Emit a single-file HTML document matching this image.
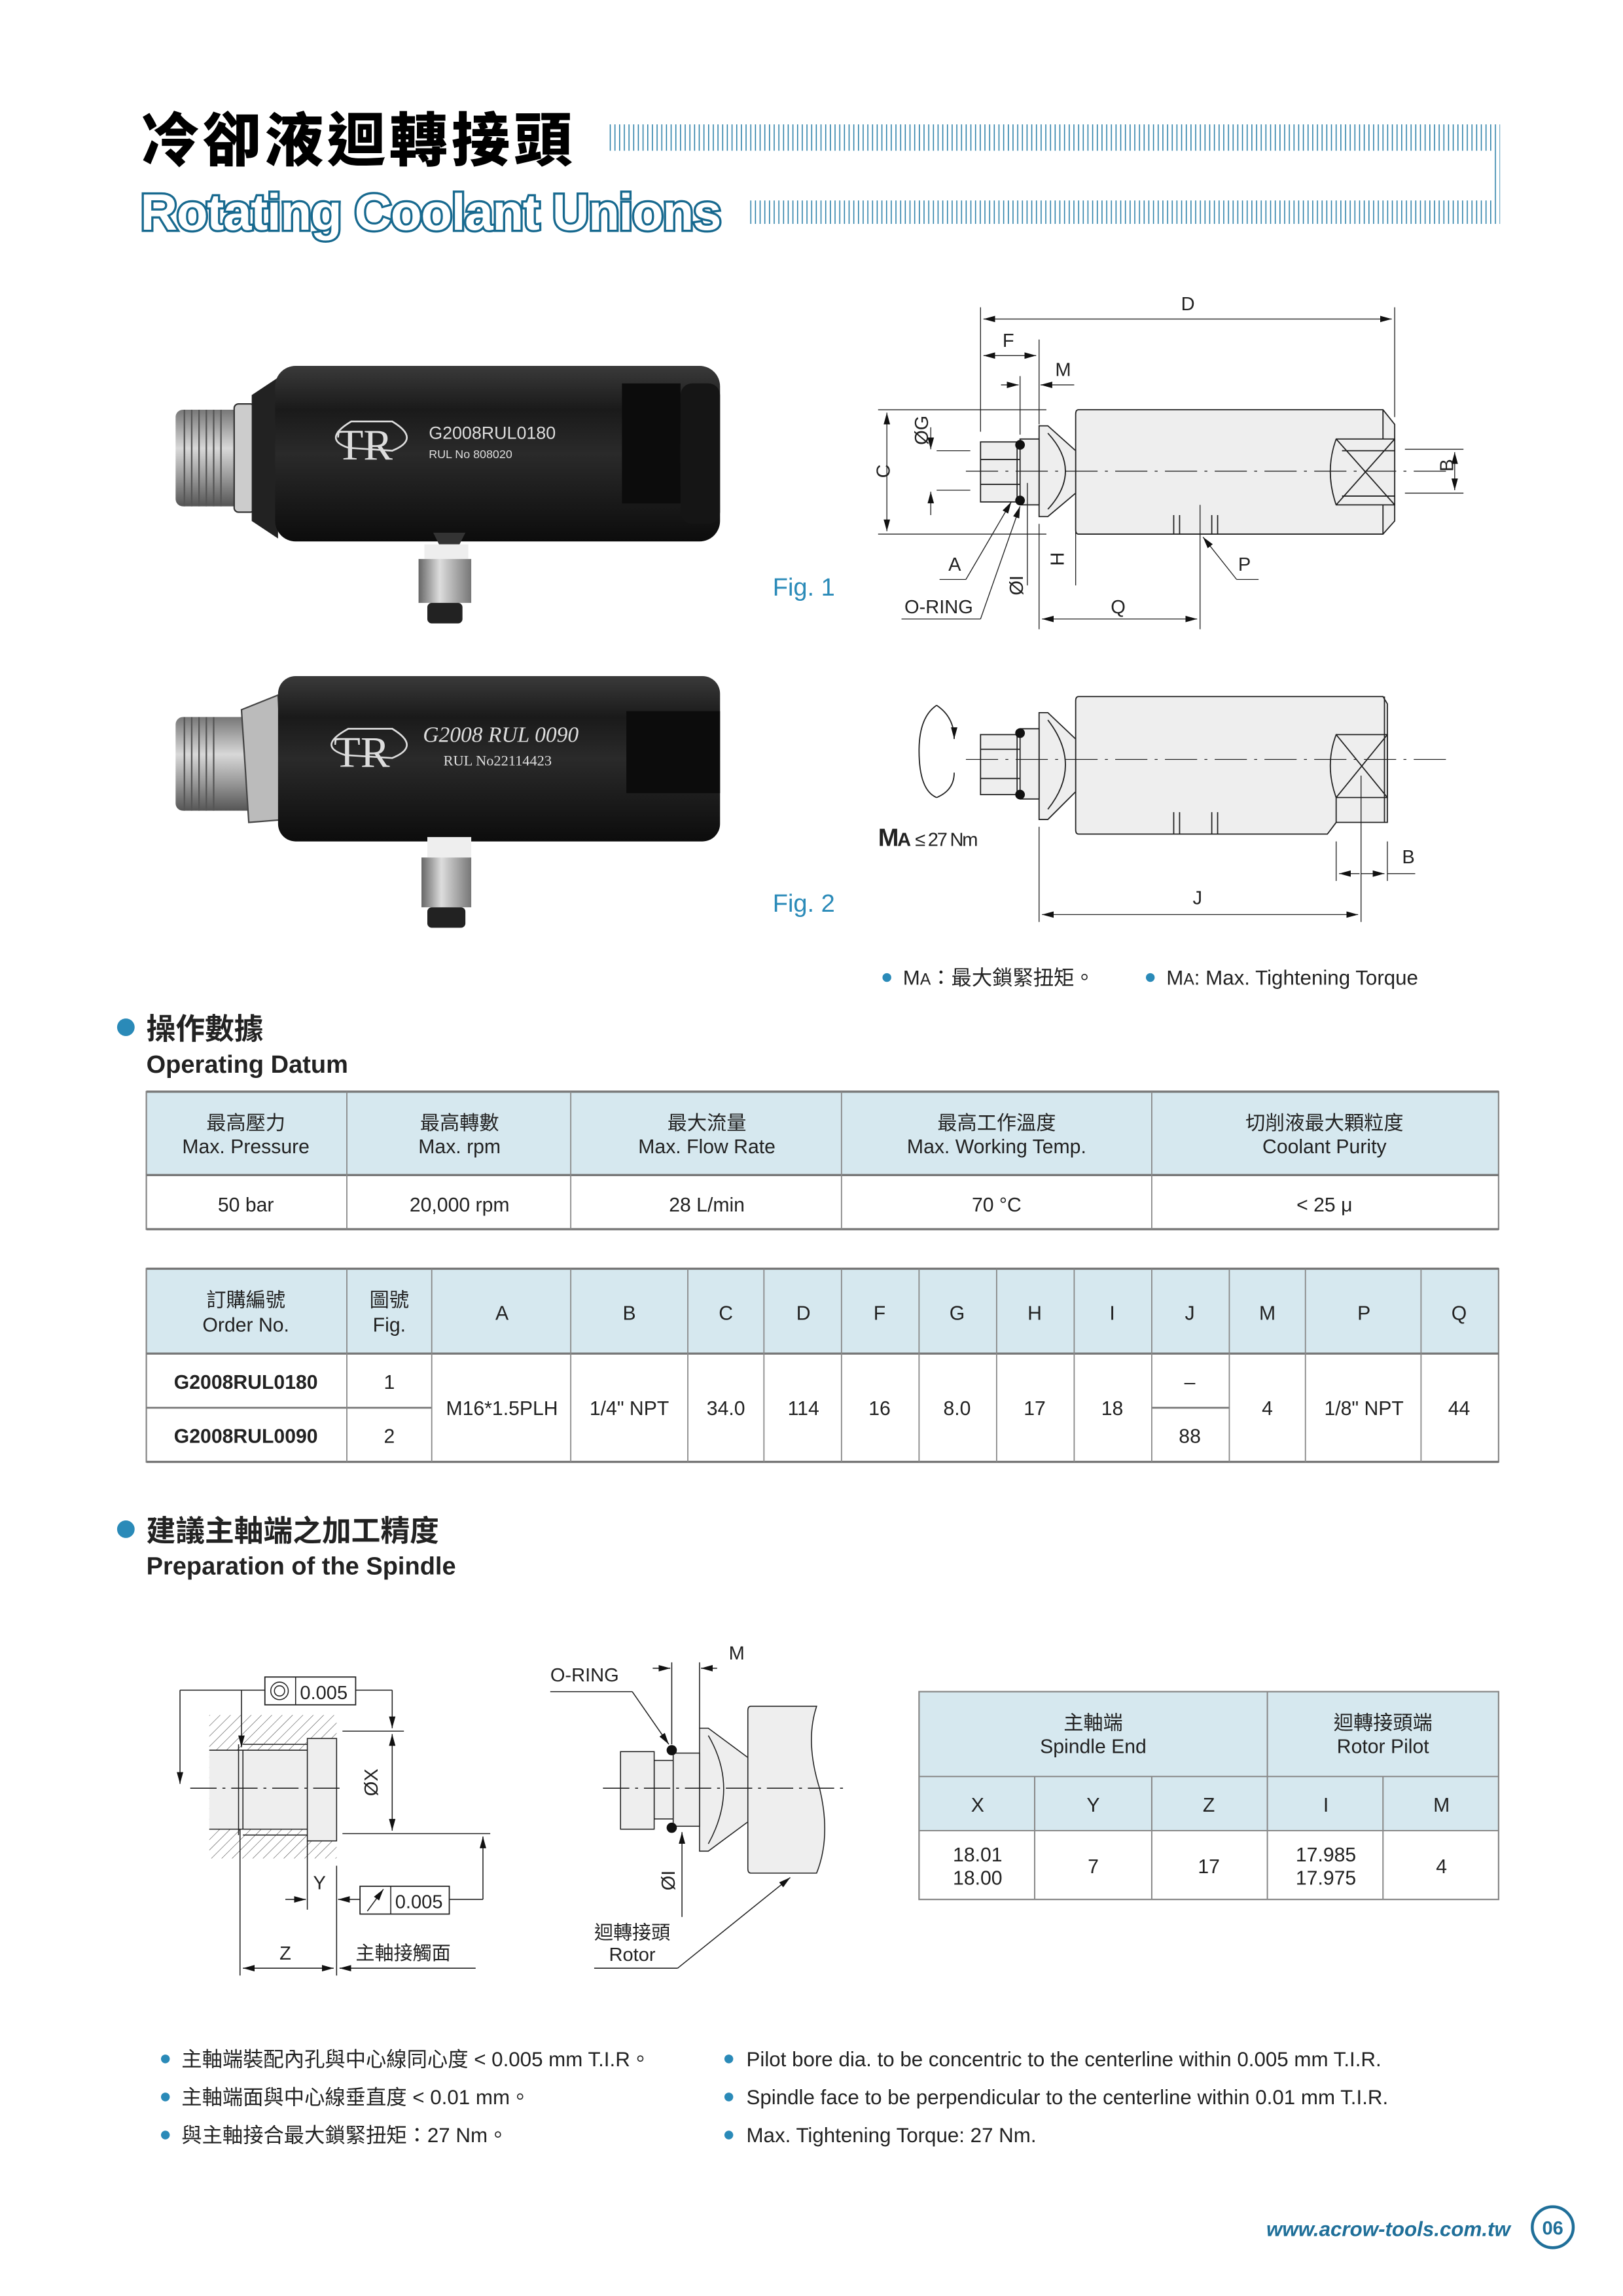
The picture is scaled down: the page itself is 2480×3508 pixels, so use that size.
<!DOCTYPE html>
<html><head><meta charset="utf-8"><style>
html,body{margin:0;padding:0;background:#fff}
svg{display:block}
text{font-family:"Liberation Sans","Noto Sans CJK TC",sans-serif;fill:#222}
.b{font-weight:bold}
</style></head><body>
<svg width="2480" height="3508" viewBox="0 0 1109 1569" preserveAspectRatio="none" xmlns="http://www.w3.org/2000/svg">
<defs>
<pattern id="vh" width="3.2" height="10" patternUnits="userSpaceOnUse"><line x1="1" y1="0" x2="1" y2="10" stroke="#2a7fa8" stroke-width="0.7"/></pattern>
<pattern id="hat" width="5" height="5" patternUnits="userSpaceOnUse" patternTransform="rotate(45)"><line x1="0" y1="0" x2="0" y2="5" stroke="#444" stroke-width="0.5"/></pattern>
<linearGradient id="blk" x1="0" y1="0" x2="0" y2="1"><stop offset="0" stop-color="#3a3a3a"/><stop offset="0.25" stop-color="#1a1a1a"/><stop offset="0.5" stop-color="#2a2a2a"/><stop offset="1" stop-color="#0c0c0c"/></linearGradient>
<linearGradient id="met" x1="0" y1="0" x2="0" y2="1"><stop offset="0" stop-color="#777"/><stop offset="0.4" stop-color="#d8d8d8"/><stop offset="0.7" stop-color="#999"/><stop offset="1" stop-color="#555"/></linearGradient>
<linearGradient id="metv" x1="0" y1="0" x2="1" y2="0"><stop offset="0" stop-color="#666"/><stop offset="0.4" stop-color="#ddd"/><stop offset="1" stop-color="#777"/></linearGradient>
<marker id="ar" markerWidth="8" markerHeight="6" refX="8" refY="3" orient="auto" markerUnits="userSpaceOnUse"><path d="M0,0.8 L8,3 L0,5.2z" fill="#111"/></marker>
<marker id="as" markerWidth="8" markerHeight="6" refX="0" refY="3" orient="auto" markerUnits="userSpaceOnUse"><path d="M8,0.8 L0,3 L8,5.2z" fill="#111"/></marker>
</defs>

<!-- Title -->
<text x="96" y="110" font-size="40" class="b" style="font-family:'Noto Sans CJK TC',sans-serif;font-weight:900;fill:#000;letter-spacing:2.5px">冷卻液迴轉接頭</text>
<rect x="416" y="85" width="604" height="18" fill="url(#vh)"/>
<rect x="512" y="137" width="508" height="16" fill="url(#vh)"/>
<rect x="1020" y="85" width="5" height="68" fill="url(#vh)"/>
<text x="96" y="157" font-size="35" class="b" style="fill:#fff;stroke:#17698f;stroke-width:3;paint-order:stroke;font-weight:900;letter-spacing:-0.6px">Rotating Coolant Unions</text>

<!-- Photo 1 -->
<g>
<rect x="120" y="280" width="55" height="66" rx="5" fill="url(#met)"/>
<g stroke="#555" stroke-width="1"><line x1="126" y1="280" x2="126" y2="346"/><line x1="131" y1="280" x2="131" y2="346"/><line x1="136" y1="280" x2="136" y2="346"/><line x1="141" y1="280" x2="141" y2="346"/><line x1="146" y1="280" x2="146" y2="346"/><line x1="151" y1="280" x2="151" y2="346"/></g>
<rect x="160" y="276" width="14" height="74" rx="3" fill="#ccc" stroke="#333"/>
<path d="M172,270 L190,258 L190,368 L172,356z" fill="#222"/>
<rect x="188" y="250" width="304" height="120" rx="14" fill="url(#blk)"/>
<rect x="425" y="262" width="40" height="82" fill="#0c0c0c"/>
<rect x="465" y="262" width="27" height="96" rx="8" fill="#151515"/>
<path d="M240,288 Q220,300 238,306 L268,308 Q288,300 268,288z" fill="none" stroke="#ddd" stroke-width="1.2"/>
<text x="230" y="314" font-size="30" style="fill:#ddd;font-family:'Liberation Serif',serif">TR</text>
<text x="293" y="300" font-size="12" style="fill:#ddd">G2008RUL0180</text>
<text x="293" y="313" font-size="8" style="fill:#ddd">RUL  No 808020</text>
<path d="M296,364 L318,364 L314,372 L300,372z" fill="#333"/>
<rect x="290" y="372" width="30" height="10" fill="#eee"/>
<rect x="286" y="382" width="36" height="30" fill="url(#metv)"/>
<rect x="292" y="412" width="24" height="14" rx="3" fill="#222"/>
</g>
<text x="528" y="407" font-size="17" style="fill:#2a8ab8">Fig. 1</text>

<!-- Photo 2 -->
<g>
<rect x="120" y="490" width="55" height="64" rx="5" fill="url(#met)"/>
<g stroke="#555" stroke-width="1"><line x1="126" y1="490" x2="126" y2="554"/><line x1="131" y1="490" x2="131" y2="554"/><line x1="136" y1="490" x2="136" y2="554"/><line x1="141" y1="490" x2="141" y2="554"/><line x1="146" y1="490" x2="146" y2="554"/></g>
<path d="M165,485 L190,475 L195,560 L170,562z" fill="#bbb" stroke="#444"/>
<rect x="190" y="462" width="302" height="113" rx="12" fill="url(#blk)"/>
<rect x="428" y="486" width="64" height="56" fill="#0c0c0c"/>
<path d="M238,498 Q216,510 236,516 L268,518 Q288,510 268,498z" fill="none" stroke="#ddd" stroke-width="1.2"/>
<text x="228" y="524" font-size="30" style="fill:#ddd;font-family:'Liberation Serif',serif">TR</text>
<text x="289" y="507" font-size="15" style="fill:#ddd;font-family:'Liberation Serif',serif;font-style:italic">G2008 RUL 0090</text>
<text x="303" y="523" font-size="10" style="fill:#ddd;font-family:'Liberation Serif',serif">RUL  No22114423</text>
<rect x="292" y="572" width="30" height="14" fill="#eee"/>
<rect x="288" y="586" width="34" height="34" fill="url(#metv)"/>
<rect x="292" y="620" width="26" height="14" rx="3" fill="#222"/>
</g>
<text x="528" y="623" font-size="17" style="fill:#2a8ab8">Fig. 2</text>

<!-- Fig1 drawing -->
<g stroke="#222" stroke-width="0.8" fill="none">
<path d="M737,280 L945,280 L953,290 L953,356 L945,365 L737,365 Q735,365 735,362 L735,283 Q735,280 737,280z" fill="#eee"/>
<line x1="945" y1="280" x2="945" y2="365"/>
<path d="M913,300 L953,300 L953,345 L913,345 Q905,322 913,300z" fill="#eee"/>
<line x1="913" y1="300" x2="953" y2="345"/><line x1="953" y1="300" x2="913" y2="345"/>
<line x1="917" y1="308" x2="953" y2="308"/><line x1="917" y1="339" x2="953" y2="339"/>
<path d="M710,291 L716,291 L735,308 L735,337 L716,353 L710,353z" fill="#eee"/>
<path d="M716,296 Q740,322 716,348"/>
<rect x="697" y="300" width="13" height="45" fill="#eee"/>
<rect x="670" y="302" width="25" height="41" fill="#eee"/>
<line x1="670" y1="314" x2="697" y2="314"/><line x1="670" y1="331" x2="697" y2="331"/>
<line x1="802" y1="352" x2="802" y2="365"/><line x1="806" y1="352" x2="806" y2="365"/><line x1="828" y1="352" x2="828" y2="365"/><line x1="832" y1="352" x2="832" y2="365"/>
</g>
<circle cx="697" cy="304" r="3.3" fill="#111"/><circle cx="697" cy="342" r="3.3" fill="#111"/>
<line x1="660" y1="322" x2="990" y2="322" stroke="#222" stroke-width="0.6" stroke-dasharray="22,5,2,5"/>
<g stroke="#222" stroke-width="0.6" fill="none">
<line x1="670" y1="210" x2="670" y2="295"/><line x1="953" y1="210" x2="953" y2="285"/>
<line x1="672" y1="218" x2="951" y2="218" marker-start="url(#as)" marker-end="url(#ar)"/>
<line x1="710" y1="232" x2="710" y2="290"/>
<line x1="672" y1="243" x2="708" y2="243" marker-start="url(#as)" marker-end="url(#ar)"/>
<line x1="697" y1="257" x2="697" y2="297"/>
<line x1="684" y1="263" x2="696" y2="263" marker-end="url(#ar)"/><line x1="734" y1="263" x2="711" y2="263" marker-end="url(#ar)"/>
<line x1="600" y1="280" x2="715" y2="280"/><line x1="600" y1="365" x2="715" y2="365"/>
<line x1="606" y1="282" x2="606" y2="363" marker-start="url(#as)" marker-end="url(#ar)"/>
<line x1="640" y1="308" x2="663" y2="308"/><line x1="640" y1="335" x2="663" y2="335"/>
<line x1="636" y1="292" x2="636" y2="307" marker-end="url(#ar)"/><line x1="636" y1="352" x2="636" y2="336" marker-end="url(#ar)"/>
<line x1="960" y1="307" x2="1000" y2="307"/><line x1="960" y1="337" x2="1000" y2="337"/>
<line x1="994" y1="309" x2="994" y2="335" marker-start="url(#as)" marker-end="url(#ar)"/>
<line x1="642" y1="396" x2="660" y2="396"/><line x1="660" y1="396" x2="691" y2="343" marker-end="url(#ar)"/>
<line x1="616" y1="423" x2="670" y2="423"/><line x1="670" y1="423" x2="697" y2="346" marker-end="url(#ar)"/>
<line x1="702" y1="330" x2="702" y2="400"/>
<line x1="735" y1="340" x2="735" y2="400"/>
<line x1="710" y1="358" x2="710" y2="430"/>
<line x1="820" y1="345" x2="820" y2="430"/>
<line x1="712" y1="423" x2="818" y2="423" marker-start="url(#as)" marker-end="url(#ar)"/>
<line x1="860" y1="396" x2="845" y2="396"/><line x1="845" y1="396" x2="822" y2="367" marker-end="url(#ar)"/>
</g>
<g font-size="13">
<text x="807" y="212">D</text><text x="685" y="237">F</text><text x="721" y="257">M</text>
<text x="603" y="327" transform="rotate(-90 603 322)" text-anchor="middle">C</text>
<text x="636" y="300" transform="rotate(-90 632 298)" text-anchor="middle">ØG</text>
<text x="992" y="327" transform="rotate(-90 988 322)" text-anchor="middle">B</text>
<text x="648" y="390">A</text><text x="618" y="419">O-RING</text>
<text x="699" y="408" transform="rotate(-90 695 404)" text-anchor="middle">ØI</text>
<text x="727" y="390" transform="rotate(-90 723 386)" text-anchor="middle">H</text>
<text x="759" y="419">Q</text><text x="846" y="390">P</text>
</g>

<!-- Fig2 drawing -->
<g stroke="#222" stroke-width="0.8" fill="none">
<path d="M737,476 L945,476 L948,481 L948,562 L913,562 L907,570 L737,570 Q735,570 735,567 L735,479 Q735,476 737,476z" fill="#eee"/>
<path d="M913,502 L948,502 L948,545 L913,545 Q905,523 913,502z" fill="#eee"/>
<line x1="913" y1="502" x2="948" y2="545"/><line x1="948" y1="502" x2="913" y2="545"/>
<line x1="913" y1="545" x2="913" y2="562"/><line x1="946" y1="476" x2="946" y2="562"/>
<path d="M710,487 L716,487 L735,505 L735,541 L716,560 L710,560z" fill="#eee"/>
<path d="M716,492 Q740,523 716,553"/>
<rect x="697" y="498" width="13" height="48" fill="#eee"/>
<rect x="670" y="502" width="25" height="41" fill="#eee"/>
<line x1="670" y1="512" x2="697" y2="512"/><line x1="670" y1="532" x2="697" y2="532"/>
<line x1="802" y1="555" x2="802" y2="570"/><line x1="806" y1="555" x2="806" y2="570"/><line x1="828" y1="555" x2="828" y2="570"/><line x1="832" y1="555" x2="832" y2="570"/>
<path d="M640,482 Q628,490 628,513 Q628,540 640,545"/>
<path d="M640,482 Q652,490 652,505" marker-end="url(#ar)"/>
<path d="M640,545 Q652,540 652,528"/>
</g>
<circle cx="697" cy="501" r="3.3" fill="#111"/><circle cx="697" cy="543" r="3.3" fill="#111"/>
<line x1="660" y1="519" x2="990" y2="519" stroke="#222" stroke-width="0.6" stroke-dasharray="22,5,2,5"/>
<g stroke="#222" stroke-width="0.6" fill="none">
<line x1="710" y1="565" x2="710" y2="630"/><line x1="930" y1="530" x2="930" y2="630"/>
<line x1="712" y1="625" x2="928" y2="625" marker-start="url(#as)" marker-end="url(#ar)"/>
<line x1="913" y1="575" x2="913" y2="602"/><line x1="948" y1="575" x2="948" y2="602"/>
<line x1="915" y1="597" x2="929" y2="597" marker-start="url(#as)"/><line x1="930" y1="597" x2="946" y2="597" marker-end="url(#ar)"/>
<line x1="948" y1="597" x2="967" y2="597"/>
</g>
<text x="815" y="618" font-size="13">J</text><text x="958" y="590" font-size="13">B</text>
<text x="600" y="578" font-size="17" class="b" style="letter-spacing:-1px">M<tspan font-size="13">A</tspan> <tspan font-size="13" font-weight="normal">≤ 27 Nm</tspan></text>
<circle cx="606" cy="668" r="3" fill="#2a8ab8"/>
<text x="617" y="673" font-size="14">M<tspan font-size="11">A</tspan>：最大鎖緊扭矩。</text>
<circle cx="786" cy="668" r="3" fill="#2a8ab8"/>
<text x="797" y="673" font-size="14">M<tspan font-size="11">A</tspan>: Max. Tightening Torque</text>

<!-- Section 1 -->
<circle cx="86" cy="702" r="6" fill="#2a8ab8"/>
<text x="100" y="710" font-size="20" class="b">操作數據</text>
<text x="100" y="733" font-size="17" class="b" style="font-weight:600">Operating Datum</text>

<g>
<rect x="100" y="746" width="924" height="57" fill="#d6e8ef"/>
<rect x="100" y="746" width="924" height="94" fill="none" stroke="#888" stroke-width="1"/>
<line x1="100" y1="746" x2="1024" y2="746" stroke="#777" stroke-width="1.5"/>
<line x1="100" y1="803" x2="1024" y2="803" stroke="#777" stroke-width="1.5"/>
<line x1="100" y1="840" x2="1024" y2="840" stroke="#777" stroke-width="1.5"/>
<g stroke="#888" stroke-width="0.8"><line x1="237" y1="746" x2="237" y2="840"/><line x1="390" y1="746" x2="390" y2="840"/><line x1="575" y1="746" x2="575" y2="840"/><line x1="787" y1="746" x2="787" y2="840"/></g>
<g font-size="13.5" text-anchor="middle">
<text x="168" y="772">最高壓力</text><text x="168" y="788">Max. Pressure</text>
<text x="314" y="772">最高轉數</text><text x="314" y="788">Max. rpm</text>
<text x="483" y="772">最大流量</text><text x="483" y="788">Max. Flow Rate</text>
<text x="681" y="772">最高工作溫度</text><text x="681" y="788">Max. Working Temp.</text>
<text x="905" y="772">切削液最大顆粒度</text><text x="905" y="788">Coolant Purity</text>
<text x="168" y="828">50 bar</text><text x="314" y="828">20,000 rpm</text><text x="483" y="828">28 L/min</text><text x="681" y="828">70 °C</text><text x="905" y="828">&lt; 25 μ</text>
</g>
</g>

<g>
<rect x="100" y="867" width="924" height="58" fill="#d6e8ef"/>
<rect x="100" y="867" width="924" height="132" fill="none" stroke="#888" stroke-width="1"/>
<line x1="100" y1="867" x2="1024" y2="867" stroke="#777" stroke-width="1.5"/>
<line x1="100" y1="925" x2="1024" y2="925" stroke="#777" stroke-width="1.5"/>
<line x1="100" y1="999" x2="1024" y2="999" stroke="#777" stroke-width="1.5"/>
<line x1="100" y1="962" x2="295" y2="962" stroke="#777" stroke-width="1.2"/>
<line x1="787" y1="962" x2="840" y2="962" stroke="#777" stroke-width="1.2"/>
<g stroke="#888" stroke-width="0.8">
<line x1="237" y1="867" x2="237" y2="999"/><line x1="295" y1="867" x2="295" y2="999"/><line x1="390" y1="867" x2="390" y2="999"/><line x1="470" y1="867" x2="470" y2="999"/><line x1="522" y1="867" x2="522" y2="999"/><line x1="575" y1="867" x2="575" y2="999"/><line x1="628" y1="867" x2="628" y2="999"/><line x1="681" y1="867" x2="681" y2="999"/><line x1="734" y1="867" x2="734" y2="999"/><line x1="787" y1="867" x2="787" y2="999"/><line x1="840" y1="867" x2="840" y2="999"/><line x1="892" y1="867" x2="892" y2="999"/><line x1="971" y1="867" x2="971" y2="999"/>
</g>
<g font-size="13.5" text-anchor="middle">
<text x="168" y="893">訂購編號</text><text x="168" y="910">Order No.</text>
<text x="266" y="893">圖號</text><text x="266" y="910">Fig.</text>
<text x="343" y="902">A</text><text x="430" y="902">B</text><text x="496" y="902">C</text><text x="549" y="902">D</text><text x="601" y="902">F</text><text x="654" y="902">G</text><text x="707" y="902">H</text><text x="760" y="902">I</text><text x="813" y="902">J</text><text x="866" y="902">M</text><text x="932" y="902">P</text><text x="997" y="902">Q</text>
<text x="168" y="949" class="b">G2008RUL0180</text><text x="168" y="986" class="b">G2008RUL0090</text>
<text x="266" y="949">1</text><text x="266" y="986">2</text>
<text x="343" y="967">M16*1.5PLH</text><text x="430" y="967">1/4" NPT</text><text x="496" y="967">34.0</text><text x="549" y="967">114</text><text x="601" y="967">16</text><text x="654" y="967">8.0</text><text x="707" y="967">17</text><text x="760" y="967">18</text>
<text x="813" y="949">–</text><text x="813" y="986">88</text>
<text x="866" y="967">4</text><text x="932" y="967">1/8" NPT</text><text x="997" y="967">44</text>
</g>
</g>

<!-- Section 2 -->
<circle cx="86" cy="1045" r="6" fill="#2a8ab8"/>
<text x="100" y="1053" font-size="20" class="b">建議主軸端之加工精度</text>
<text x="100" y="1076" font-size="17" class="b" style="font-weight:600">Preparation of the Spindle</text>

<!-- Spindle drawing -->
<g stroke="#222" stroke-width="0.7" fill="none">
<rect x="143" y="1172" width="87" height="98" fill="url(#hat)" stroke="none"/>
<rect x="143" y="1196" width="87" height="54" fill="#eee" stroke="none"/>
<rect x="210" y="1188" width="20" height="70" fill="#eee"/>
<line x1="163" y1="1196" x2="210" y2="1196"/><line x1="163" y1="1250" x2="210" y2="1250"/>
<line x1="143" y1="1196" x2="163" y2="1196"/><line x1="143" y1="1250" x2="163" y2="1250"/>
<line x1="163" y1="1192" x2="163" y2="1254"/><line x1="166" y1="1196" x2="166" y2="1250"/>
<line x1="166" y1="1192" x2="210" y2="1192"/><line x1="166" y1="1254" x2="210" y2="1254"/>
<line x1="130" y1="1222" x2="235" y2="1222" stroke-dasharray="18,4,2,4"/>
<line x1="164" y1="1250" x2="164" y2="1350"/><line x1="230" y1="1275" x2="230" y2="1350"/><line x1="210" y1="1258" x2="210" y2="1305"/>
<line x1="123" y1="1155" x2="181" y2="1155"/><line x1="123" y1="1155" x2="123" y2="1219" marker-end="url(#ar)"/>
<line x1="165" y1="1155" x2="165" y2="1194" marker-end="url(#ar)"/>
<line x1="243" y1="1155" x2="268" y2="1155"/><line x1="268" y1="1155" x2="268" y2="1181" marker-end="url(#ar)"/>
<line x1="234" y1="1183" x2="276" y2="1183"/><line x1="234" y1="1253" x2="335" y2="1253"/>
<line x1="268" y1="1185" x2="268" y2="1251" marker-start="url(#as)" marker-end="url(#ar)"/>
<line x1="307" y1="1298" x2="330" y2="1298"/><line x1="330" y1="1298" x2="330" y2="1255" marker-end="url(#ar)"/>
<line x1="195" y1="1298" x2="209" y2="1298" marker-end="url(#ar)"/><line x1="246" y1="1298" x2="231" y2="1298" marker-end="url(#ar)"/>
<line x1="166" y1="1345" x2="228" y2="1345" marker-start="url(#as)" marker-end="url(#ar)"/>
<line x1="232" y1="1345" x2="325" y2="1345" marker-start="url(#as)"/>
<rect x="181" y="1146" width="62" height="19" stroke-width="0.8"/><line x1="202" y1="1146" x2="202" y2="1165"/>
<circle cx="191" cy="1155.5" r="6"/><circle cx="191" cy="1155.5" r="3.5"/>
<rect x="246" y="1289" width="61" height="19" stroke-width="0.8"/><line x1="267" y1="1289" x2="267" y2="1308"/>
<line x1="251" y1="1306" x2="262" y2="1291" marker-end="url(#ar)"/>
</g>
<g font-size="13">
<text x="205" y="1161">0.005</text><text x="270" y="1304">0.005</text>
<text x="262" y="1222" transform="rotate(-90 258 1222)" text-anchor="middle">ØX</text>
<text x="214" y="1291">Y</text><text x="191" y="1339">Z</text><text x="243" y="1339">主軸接觸面</text>
</g>

<!-- Rotor drawing -->
<g stroke="#222" stroke-width="0.7" fill="none">
<path d="M513,1166 L558,1166 Q550,1190 560,1222 Q568,1255 558,1280 L513,1280 Q511,1280 511,1277 L511,1169 Q511,1166 513,1166z" fill="#eee"/>
<path d="M478,1181 L484,1181 L511,1201 L511,1245 L484,1265 L478,1265z" fill="#eee"/>
<path d="M484,1186 Q505,1222 484,1260"/>
<rect x="460" y="1198" width="18" height="50" fill="#eee"/>
<rect x="447" y="1203" width="13" height="40" fill="#eee"/>
<rect x="424" y="1197" width="23" height="53" fill="#eee"/>
<line x1="412" y1="1222" x2="578" y2="1222" stroke-dasharray="18,4,2,4"/>
<line x1="459" y1="1136" x2="459" y2="1192"/><line x1="478" y1="1136" x2="478" y2="1181"/>
<line x1="446" y1="1140" x2="458" y2="1140" marker-end="url(#ar)"/><line x1="490" y1="1140" x2="479" y2="1140" marker-end="url(#ar)"/>
<line x1="376" y1="1156" x2="432" y2="1156"/><line x1="432" y1="1156" x2="457" y2="1192" marker-end="url(#ar)"/>
<line x1="466" y1="1310" x2="466" y2="1252" marker-end="url(#ar)"/>
<line x1="406" y1="1345" x2="463" y2="1345"/><line x1="463" y1="1345" x2="540" y2="1283" marker-end="url(#ar)"/>
</g>
<circle cx="459" cy="1196" r="3.5" fill="#111"/><circle cx="459" cy="1249" r="3.5" fill="#111"/>
<g font-size="13">
<text x="376" y="1149">O-RING</text><text x="498" y="1134">M</text>
<text x="466" y="1290" transform="rotate(-90 461 1290)" text-anchor="middle">ØI</text>
<text x="432" y="1325" text-anchor="middle">迴轉接頭</text><text x="432" y="1340" text-anchor="middle">Rotor</text>
</g>

<!-- Right table -->
<g>
<rect x="628" y="1156" width="396" height="95" fill="#d6e8ef"/>
<rect x="628" y="1156" width="396" height="142" fill="none" stroke="#888"/>
<g stroke="#888" stroke-width="0.9">
<line x1="628" y1="1214" x2="1024" y2="1214"/><line x1="628" y1="1251" x2="1024" y2="1251"/>
<line x1="866" y1="1156" x2="866" y2="1298"/><line x1="707" y1="1214" x2="707" y2="1298"/><line x1="787" y1="1214" x2="787" y2="1298"/><line x1="945" y1="1214" x2="945" y2="1298"/>
</g>
<g font-size="13.5" text-anchor="middle">
<text x="747" y="1182">主軸端</text><text x="747" y="1198">Spindle End</text>
<text x="945" y="1182">迴轉接頭端</text><text x="945" y="1198">Rotor Pilot</text>
<text x="668" y="1238">X</text><text x="747" y="1238">Y</text><text x="826" y="1238">Z</text><text x="906" y="1238">I</text><text x="985" y="1238">M</text>
<text x="668" y="1272">18.01</text><text x="668" y="1288">18.00</text>
<text x="747" y="1280">7</text><text x="826" y="1280">17</text>
<text x="906" y="1272">17.985</text><text x="906" y="1288">17.975</text>
<text x="985" y="1280">4</text>
</g>
</g>

<!-- Bottom notes -->
<g font-size="14">
<circle cx="113" cy="1407" r="3" fill="#2a8ab8"/><text x="124" y="1412">主軸端裝配內孔與中心線同心度 &lt; 0.005 mm T.I.R。</text>
<circle cx="113" cy="1433" r="3" fill="#2a8ab8"/><text x="124" y="1438">主軸端面與中心線垂直度 &lt; 0.01 mm。</text>
<circle cx="113" cy="1459" r="3" fill="#2a8ab8"/><text x="124" y="1464">與主軸接合最大鎖緊扭矩：27 Nm。</text>
<circle cx="498" cy="1407" r="3" fill="#2a8ab8"/><text x="510" y="1412">Pilot bore dia. to be concentric to the centerline within 0.005 mm T.I.R.</text>
<circle cx="498" cy="1433" r="3" fill="#2a8ab8"/><text x="510" y="1438">Spindle face to be perpendicular to the centerline within 0.01 mm T.I.R.</text>
<circle cx="498" cy="1459" r="3" fill="#2a8ab8"/><text x="510" y="1464">Max. Tightening Torque: 27 Nm.</text>
</g>

<!-- Footer -->
<text x="1032" y="1528" font-size="14" text-anchor="end" class="b" style="fill:#1f6f99;font-style:italic">www.acrow-tools.com.tw</text>
<circle cx="1061" cy="1522" r="14" fill="#fff" stroke="#1f6f99" stroke-width="2"/>
<text x="1061" y="1527" font-size="13" text-anchor="middle" class="b" style="fill:#1f6f99">06</text>
</svg>
</body></html>
